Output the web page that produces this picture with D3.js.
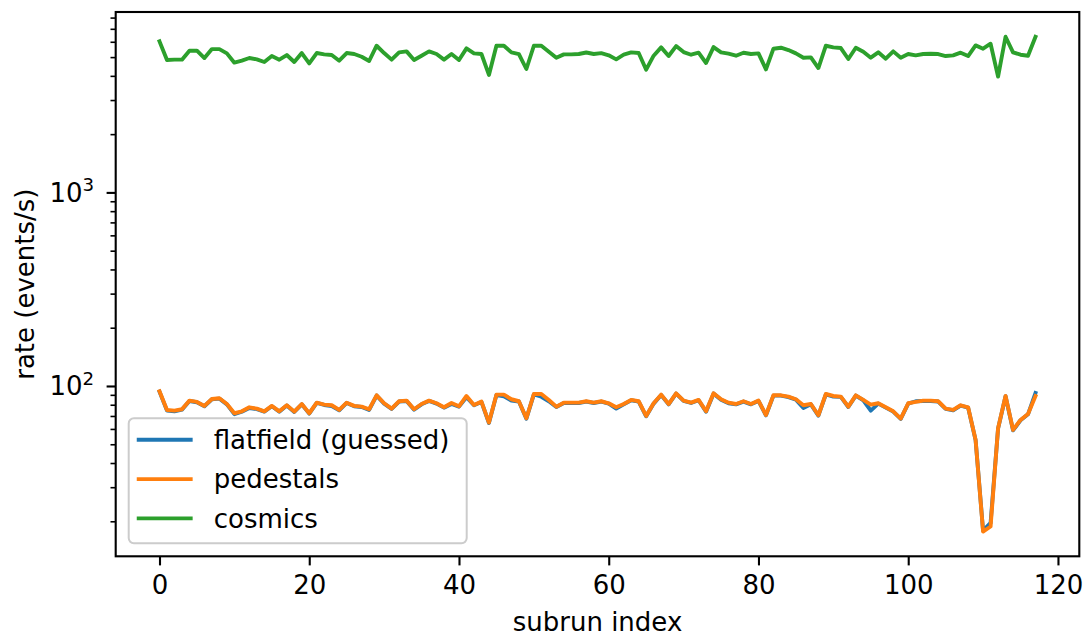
<!DOCTYPE html>
<html>
<head>
<meta charset="utf-8">
<script src="https://cdn.jsdelivr.net/npm/d3@7"></script>
<style>
  body { margin: 0; background: #fff; }
  svg { display: block; font-family: "DejaVu Sans", sans-serif; }
  .tick line { stroke: #000; }
  .domain { display: none; }
</style>
</head>
<body>
<svg id="chart" width="1087" height="639"></svg>
<script>
// rates per subrun (events/s)
const cosmics = [
  6030, 4830, 4850, 4850, 5395, 5395, 4945, 5500, 5500, 5227,
  4680, 4790, 4945, 4870, 4716, 5064, 4850, 5124, 4716, 5248,
  4642, 5248, 5166, 5124, 4790, 5248, 5186, 5023, 4773, 5724,
  5248, 4850, 5290, 5352, 4830, 5084, 5352, 5186, 4850, 5186,
  4830, 5546, 5227, 5186, 4043, 5724, 5724, 5290, 5186, 4340,
  5724, 5724, 5331, 4965, 5166, 5166, 5186, 5280, 5186, 5240,
  5110, 4868, 5144, 5290, 5248, 4305, 5084, 5613, 5064, 5702,
  5310, 5144, 5268, 4660, 5635, 5290, 5207, 5084, 5268, 5186,
  5227, 4322, 5525, 5590, 5438, 5227, 4965, 4984, 4391, 5724,
  5613, 5568, 4887, 5590, 5331, 4965, 5290, 4906, 5352, 4965,
  5186, 5104, 5186, 5207, 5186, 5064, 5104, 5268, 5064, 5747,
  5525, 5861, 3963, 6370, 5290, 5144, 5084, 6370
];
const pedestals = [
  93.9, 75.2, 74.6, 75.8, 84.0, 82.7, 78.9, 85.7, 86.4, 80.7,
  72.3, 74.0, 77.6, 76.4, 74.0, 78.9, 74.0, 79.5, 73.7, 80.7,
  72.3, 82.0, 80.1, 79.5, 75.2, 82.0, 78.9, 78.2, 75.8, 89.5,
  81.4, 76.4, 83.4, 84.0, 75.8, 80.7, 84.0, 81.4, 77.6, 81.7,
  78.5, 88.8, 79.8, 83.0, 64.7, 90.2, 90.2, 85.4, 83.4, 68.1,
  90.9, 90.9, 84.7, 78.2, 82.0, 82.0, 82.0, 83.4, 82.0, 83.4,
  81.4, 77.6, 80.7, 84.7, 83.4, 70.0, 81.4, 90.2, 80.7, 91.7,
  84.0, 82.0, 84.7, 74.0, 91.7, 85.4, 82.0, 80.7, 83.4, 80.7,
  84.0, 70.8, 89.5, 89.5, 88.1, 85.4, 79.5, 80.7, 70.6, 90.9,
  88.8, 88.1, 78.2, 89.5, 84.7, 80.1, 81.4, 77.6, 74.0, 67.9,
  81.4, 82.7, 84.0, 84.0, 83.4, 76.4, 75.2, 79.5, 77.6, 52.7,
  17.7, 18.8, 60.5, 88.8, 59.3, 66.8, 71.7, 88.8
];
const flatfield = [
  93.5, 74.6, 74.0, 75.5, 83.6, 82.4, 78.6, 85.4, 86.0, 80.4,
  71.5, 73.6, 77.0, 76.0, 73.7, 78.6, 73.7, 79.2, 73.4, 80.4,
  72.0, 81.7, 79.8, 78.8, 74.9, 81.7, 78.6, 77.9, 75.2, 89.2,
  81.1, 76.1, 83.1, 83.7, 75.5, 80.4, 83.7, 81.1, 77.3, 80.7,
  78.2, 87.5, 79.5, 82.7, 64.4, 89.8, 88.5, 84.0, 83.1, 67.8,
  90.5, 88.0, 83.4, 77.9, 81.7, 81.7, 81.7, 83.1, 81.7, 83.1,
  81.1, 76.4, 80.4, 84.4, 83.1, 69.7, 81.1, 89.8, 80.4, 91.3,
  83.7, 81.7, 84.4, 73.7, 91.3, 85.0, 81.4, 80.4, 83.1, 80.4,
  83.7, 70.5, 89.2, 89.2, 87.5, 85.0, 77.0, 80.4, 70.3, 90.5,
  88.1, 87.8, 77.9, 89.2, 84.4, 74.6, 81.1, 77.3, 73.7, 67.6,
  81.1, 83.4, 83.7, 83.7, 83.1, 76.1, 74.9, 79.2, 77.3, 52.5,
  17.9, 19.6, 60.2, 88.5, 59.0, 66.5, 71.4, 92.0
];
const seriesNames = ["flatfield (guessed)", "pedestals", "cosmics"];
const seriesColors = ["#1f77b4", "#ff7f0e", "#2ca02c"];
const xTicks = [0, 20, 40, 60, 80, 100, 120];
const yMajor = [2, 3];           // decades that get a 10^n label
const xLabel = "subrun index";
const yLabel = "rate (events/s)";

const W = 1087, H = 639;
const margin = { left: 115.7, right: W - 1079.3, top: 12, bottom: H - 556.3 };
const pw = W - margin.left - margin.right;
const ph = H - margin.top - margin.bottom;
const FS = 26;

const svg = d3.select("#chart");
const g = svg.append("g").attr("transform", `translate(${margin.left},${margin.top})`);

const allSeries = [flatfield, pedestals, cosmics];
const n = cosmics.length;

// matplotlib style 5% margins (log space for y)
const xPad = (n - 1) * 0.05;
const x = d3.scaleLinear().domain([-xPad, n - 1 + xPad]).range([0, pw]);
const allVals = allSeries.flat();
const lmin = Math.log10(d3.min(allVals)), lmax = Math.log10(d3.max(allVals));
const lpad = (lmax - lmin) * 0.05;
const y = d3.scaleLog().domain([10 ** (lmin - lpad), 10 ** (lmax + lpad)]).range([ph, 0]);

g.append("clipPath").attr("id", "clip")
  .append("rect").attr("width", pw).attr("height", ph);

const line = d3.line().x((d, i) => x(i)).y(d => y(d));

g.append("g").attr("clip-path", "url(#clip)")
  .selectAll("path")
  .data(allSeries)
  .join("path")
  .attr("d", line)
  .attr("fill", "none")
  .attr("stroke", (d, i) => seriesColors[i])
  .attr("stroke-width", 3.9)
  .attr("stroke-linejoin", "round")
  .attr("stroke-linecap", "square");

// x axis
const xAxis = g.append("g")
  .attr("transform", `translate(0,${ph})`)
  .call(d3.axisBottom(x).tickValues(xTicks).tickSize(9.1).tickPadding(9.1));
xAxis.selectAll(".tick line").attr("stroke-width", 2.1);
xAxis.selectAll("text")
  .attr("font-size", FS).attr("fill", "#000")
  .attr("font-family", "DejaVu Sans").attr("dy", "0.76em");

// y axis: minor ticks
const [d0, d1] = y.domain();
const minor = [];
for (let e = Math.floor(Math.log10(d0)); e <= Math.ceil(Math.log10(d1)); e++) {
  for (let k = 2; k <= 9; k++) {
    const v = k * 10 ** e;
    if (v >= d0 && v <= d1) minor.push(v);
  }
}
const yMinor = g.append("g")
  .call(d3.axisLeft(y).tickValues(minor).tickSize(5.2).tickFormat(""));
yMinor.selectAll(".tick line").attr("stroke-width", 1.6);

const majorVals = yMajor.map(e => 10 ** e);
const yAxis = g.append("g")
  .call(d3.axisLeft(y).tickValues(majorVals).tickSize(9.1).tickFormat(""));
yAxis.selectAll(".tick line").attr("stroke-width", 2.1);

const yLab = g.append("g").selectAll("text")
  .data(yMajor)
  .join("text")
  .attr("x", -21.5)
  .attr("y", d => y(10 ** d) + 9.5)
  .attr("text-anchor", "end")
  .attr("font-size", FS)
  .attr("fill", "#000");
yLab.append("tspan").text("10");
yLab.append("tspan")
  .attr("font-size", FS * 0.7)
  .attr("dy", -10.5)
  .text(d => d);

// frame
g.append("rect")
  .attr("width", pw).attr("height", ph)
  .attr("fill", "none").attr("stroke", "#000").attr("stroke-width", 2.1);

// axis labels
svg.append("text")
  .attr("x", margin.left + pw / 2).attr("y", 631)
  .attr("text-anchor", "middle").attr("font-size", FS)
  .text(xLabel);
svg.append("text")
  .attr("transform", `translate(34,${margin.top + ph / 2}) rotate(-90)`)
  .attr("text-anchor", "middle").attr("font-size", FS)
  .text(yLabel);

// legend
const lg = g.append("g").attr("transform", `translate(13,${ph - 13 - 125})`);
lg.append("rect")
  .attr("width", 338).attr("height", 125).attr("rx", 5.2)
  .attr("fill", "#fff").attr("fill-opacity", 0.8)
  .attr("stroke", "#cccccc").attr("stroke-width", 2);
const rows = lg.selectAll("g.row")
  .data(seriesNames)
  .join("g")
  .attr("class", "row")
  .attr("transform", (d, i) => `translate(0,${21.5 + i * 39.3})`);
rows.append("line")
  .attr("x1", 10).attr("x2", 62)
  .attr("stroke", (d, i) => seriesColors[i])
  .attr("stroke-width", 3.9)
  .attr("stroke-linecap", "square");
rows.append("text")
  .attr("x", 85).attr("y", 9.3)
  .attr("font-size", FS)
  .text(d => d);
</script>
</body>
</html>
